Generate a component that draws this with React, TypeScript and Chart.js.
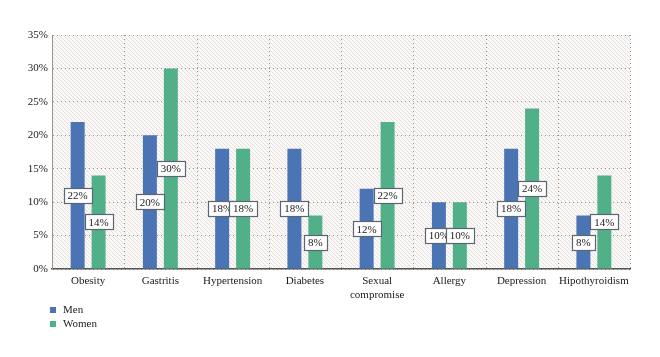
import React, { useEffect, useRef } from "react";
import { Chart, registerables } from "chart.js";

Chart.register(...registerables);

const categories: (string | string[])[] = [
  "Obesity",
  "Gastritis",
  "Hypertension",
  "Diabetes",
  ["Sexual", "compromise"],
  "Allergy",
  "Depression",
  "Hipothyroidism",
];
const menValues = [22, 20, 18, 18, 12, 10, 18, 8];
const womenValues = [14, 30, 18, 8, 22, 10, 24, 14];
const seriesNames = ["Men", "Women"];
const seriesColors = ["#4a74b4", "#52b088"];

const FONT = "'Liberation Serif', 'DejaVu Serif', serif";
const GRID = "#9d938c";

function makePattern(): CanvasPattern | string {
  const c = document.createElement("canvas");
  c.width = 4;
  c.height = 4;
  const ctx = c.getContext("2d");
  if (!ctx) return "#f5f2f0";
  ctx.fillStyle = "#faf9f8";
  ctx.fillRect(0, 0, 4, 4);
  ctx.strokeStyle = "#e6e1de";
  ctx.lineWidth = 1;
  ctx.beginPath();
  for (let k = -4; k <= 8; k += 4) {
    ctx.moveTo(k, 0);
    ctx.lineTo(k + 4, 4);
  }
  ctx.stroke();
  const p = ctx.createPattern(c, "repeat");
  return p || "#f5f2f0";
}

export default function App() {
  const ref = useRef<HTMLCanvasElement | null>(null);

  useEffect(() => {
    document.body.style.margin = "0";
    const canvas = ref.current;
    if (!canvas) return;
    const pattern = makePattern();

    const bgPlugin = {
      id: "bgHatch",
      beforeDraw(chart: any) {
        const { ctx, chartArea } = chart;
        ctx.save();
        ctx.fillStyle = pattern;
        ctx.fillRect(chartArea.left, chartArea.top, chartArea.right - chartArea.left, chartArea.bottom - chartArea.top);
        ctx.restore();
      },
      beforeDatasetsDraw(chart: any) {
        const { ctx, chartArea } = chart;
        const xs = chart.scales.x;
        const n = chart.data.labels.length;
        ctx.save();
        ctx.strokeStyle = GRID;
        ctx.lineWidth = 1;
        ctx.setLineDash([1, 3]);
        for (let i = 1; i <= n; i++) {
          const px = Math.round(xs.left + (i * (xs.right - xs.left)) / n) + 0.5;
          ctx.beginPath();
          ctx.moveTo(px, chartArea.top);
          ctx.lineTo(px, chartArea.bottom);
          ctx.stroke();
        }
        ctx.restore();
      },
    };

    const labelPlugin = {
      id: "boxLabels",
      afterDatasetsDraw(chart: any) {
        const { ctx } = chart;
        ctx.save();
        ctx.font = `11px ${FONT}`;
        ctx.textAlign = "center";
        ctx.textBaseline = "middle";
        chart.data.datasets.forEach((ds: any, di: number) => {
          const meta = chart.getDatasetMeta(di);
          meta.data.forEach((bar: any, i: number) => {
            const v = ds.data[i];
            const text = `${v}%`;
            const x = bar.x;
            const y = (bar.y + bar.base) / 2;
            const w = Math.round(ctx.measureText(text).width + 8);
            const h = 15;
            const bx = Math.round(x - w / 2) + 0.5;
            const by = Math.round(y - h / 2) + 0.5;
            ctx.fillStyle = "#ffffff";
            ctx.fillRect(bx, by, w, h);
            ctx.strokeStyle = "#5e6474";
            ctx.lineWidth = 1.2;
            ctx.strokeRect(bx, by, w, h);
            ctx.fillStyle = "#1a1a1a";
            ctx.fillText(text, x, y + 1);
          });
        });
        ctx.restore();
      },
    };

    const legendPlugin = {
      id: "vertLegend",
      afterDraw(chart: any) {
        const { ctx } = chart;
        ctx.save();
        ctx.font = `11px ${FONT}`;
        ctx.textBaseline = "middle";
        ctx.textAlign = "left";
        chart.data.datasets.forEach((ds: any, di: number) => {
          const y = 310 + di * 14;
          ctx.fillStyle = ds.backgroundColor;
          ctx.fillRect(50, y - 3, 6, 6);
          ctx.fillStyle = "#1a1a1a";
          ctx.fillText(ds.label, 63, y);
        });
        ctx.restore();
      },
    };

    const chart = new Chart(canvas, {
      type: "bar",
      data: {
        labels: categories,
        datasets: [
          { label: seriesNames[0], data: menValues, backgroundColor: seriesColors[0] },
          { label: seriesNames[1], data: womenValues, backgroundColor: seriesColors[1] },
        ],
      },
      options: {
        animation: false,
        responsive: false,
        maintainAspectRatio: false,
        layout: { padding: { top: 35, right: 30, bottom: 48, left: 0 } },
        datasets: {
          bar: { categoryPercentage: 0.58, barPercentage: 0.667 },
        },
        plugins: {
          legend: { display: false },
          tooltip: { enabled: false },
        },
        scales: {
          x: {
            grid: { display: false, offset: true, drawTicks: false },
            border: { display: true, color: "#555", width: 1.5 },
            ticks: {
              color: "#1a1a1a",
              font: { family: FONT, size: 11, lineHeight: 1.25 },
              padding: 5,
              maxRotation: 0,
              autoSkip: false,
            },
            afterFit(scale: any) {
              scale.height = 40;
            },
          } as any,
          y: {
            min: 0,
            max: 35,
            grid: {
              color: GRID,
              lineWidth: 1,
              drawTicks: false,
              borderDash: [1, 3],
              dash: [1, 3],
            },
            border: { display: true, color: GRID, dash: [1, 3] },
            ticks: {
              stepSize: 5,
              color: "#1a1a1a",
              font: { family: FONT, size: 11 },
              padding: 4,
              callback: (v: any) => `${v}%`,
            },
            afterFit(scale: any) {
              scale.width = 52;
            },
          } as any,
        },
      } as any,
      plugins: [bgPlugin, labelPlugin, legendPlugin],
    });

    return () => chart.destroy();
  }, []);

  return (
    <div style={{ position: "absolute", left: 0, top: 0, width: 660, height: 357, background: "#fff" }}>
      <canvas ref={ref} width={660} height={357} style={{ width: 660, height: 357 }} />
    </div>
  );
}
